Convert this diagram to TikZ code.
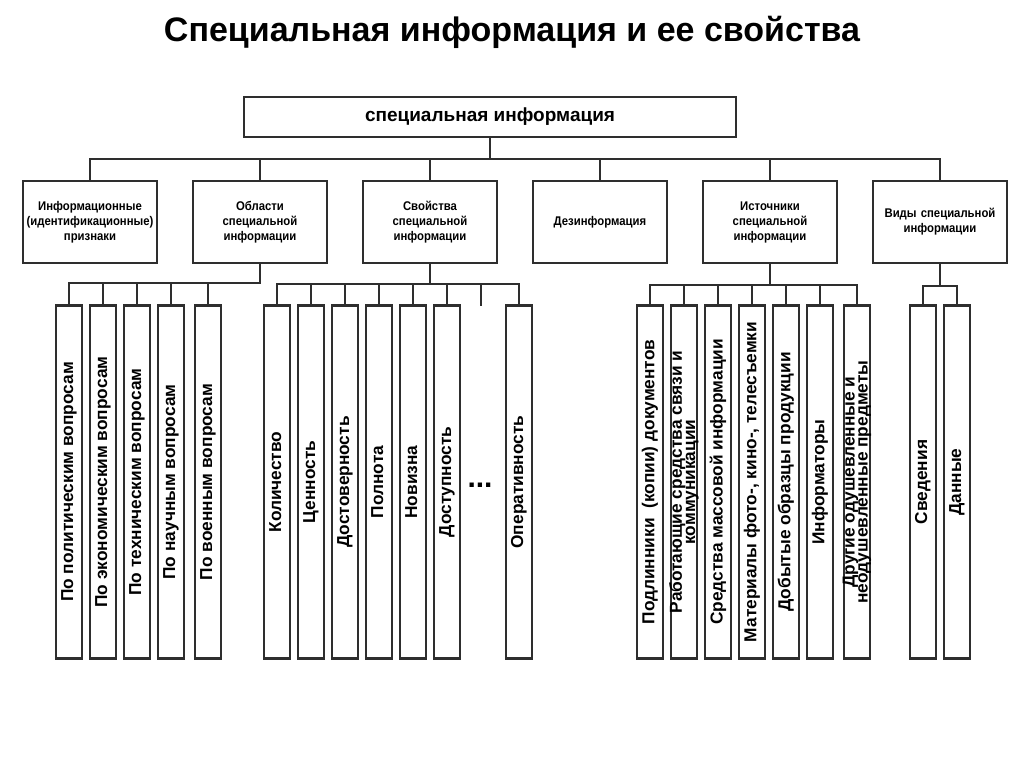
\documentclass[tikz,border=0pt]{standalone}
\usepackage{fontspec}
\setmainfont{Liberation Sans}
\newfontfamily\narrowfont[FakeStretch=0.9]{Liberation Sans}
\definecolor{edgegray}{HTML}{2E2E2E}
\newcommand{\vlabel}[1]{\makebox[0pt]{\rotatebox{90}{\begin{tabular}{@{}c@{}}#1\end{tabular}}}}
\tikzset{
  box/.style={draw=edgegray, line width=2.4pt, fill=white, align=center, inner sep=2pt},
  headbox/.style={box, minimum width=492pt, minimum height=40pt, font=\fontsize{19}{22}\selectfont\bfseries},
  groupbox/.style={box, minimum width=134pt, minimum height=82pt, text width=130pt, font=\narrowfont\fontsize{12.6}{15}\selectfont\bfseries},
  leafbox/.style={box, minimum width=26pt, minimum height=353pt, inner sep=0pt, font=\fontsize{17.3}{12.5}\selectfont\bfseries},
  link/.style={draw=edgegray, line width=2.4pt, line cap=rect},
}

\begin{document}
\begin{tikzpicture}[x=1pt, y=-1pt, node distance=34pt]
\useasboundingbox (0,0) rectangle (1024,767);
\node[font=\fontsize{34}{38}\selectfont\bfseries, anchor=base] (title) at (512,42) {Специальная информация и ее свойства};

% root and second row
\node[headbox] (si) at (490,117) {специальная информация};
\node[groupbox] (m1) at (90,222) {Информационные\\(идентификационные)\\признаки};
\node[groupbox, right of = m1, node distance=170pt] (m2) {Области\\специальной\\информации};
\node[groupbox, right of = m2, node distance=170pt] (m3) {Свойства\\специальной\\информации};
\node[groupbox, right of = m3, node distance=170pt] (m4) {Дезинформация};
\node[groupbox, right of = m4, node distance=170pt] (m5) {Источники\\специальной\\информации};
\node[groupbox, right of = m5, node distance=170pt] (m6) {Виды специальной\\информации};

% areas
\node[leafbox] (a1) at (69,482) {\vlabel{По политическим вопросам}};
\node[leafbox, right of = a1] (a2) {\vlabel{По экономическим вопросам}};
\node[leafbox, right of = a2] (a3) {\vlabel{По техническим вопросам}};
\node[leafbox, right of = a3] (a4) {\vlabel{По научным вопросам}};
\node[leafbox, right of = a4, xshift=3pt] (a5) {\vlabel{По военным вопросам}};

% properties
\node[leafbox] (p1) at (277,482) {\vlabel{Количество}};
\node[leafbox, right of = p1] (p2) {\vlabel{Ценность}};
\node[leafbox, right of = p2] (p3) {\vlabel{Достоверность}};
\node[leafbox, right of = p3] (p4) {\vlabel{Полнота}};
\node[leafbox, right of = p4] (p5) {\vlabel{Новизна}};
\node[leafbox, right of = p5] (p6) {\vlabel{Доступность}};
\coordinate (p7) at (481,305);
\node[font=\fontsize{30}{30}\selectfont\bfseries, anchor=base] (pdots) at (480,487) {...};
\node[leafbox, right of = p6, xshift=38pt] (p8) {\vlabel{Оперативность}};

% sources
\node[leafbox] (s1) at (650,482) {\vlabel{Подлинники\ \ (копии) документов}};
\node[leafbox, right of = s1] (s2) {\vlabel{Работающие средства связи и\\коммуникации}};
\node[leafbox, right of = s2] (s3) {\vlabel{Средства массовой информации}};
\node[leafbox, right of = s3] (s4) {\vlabel{Материалы фото-, кино-, телесъемки}};
\node[leafbox, right of = s4] (s5) {\vlabel{Добытые образцы продукции}};
\node[leafbox, right of = s5] (s6) {\vlabel{Информаторы}};
\node[leafbox, right of = s6, xshift=3pt] (s7) {\vlabel{Другие одушевленные и\\неодушевленные предметы}};

% kinds
\node[leafbox] (v1) at (923,482) {\vlabel{Сведения}};
\node[leafbox, right of = v1] (v2) {\vlabel{Данные}};

% bus points
\coordinate (b0) at (490,159);
\coordinate (b2) at (260,283);
\coordinate (b3) at (430,284);
\coordinate (b5) at (770,285);
\coordinate (b6) at (940,286);

\draw[link] (si) -- (b0);
\draw[link] (b0) -| (m1);
\draw[link] (b0) -| (m2);
\draw[link] (b0) -| (m3);
\draw[link] (b0) -| (m4);
\draw[link] (b0) -| (m5);
\draw[link] (b0) -| (m6);

\draw[link] (m2) -- (b2);
\draw[link] (b2) -| (a1);
\draw[link] (b2) -| (a2);
\draw[link] (b2) -| (a3);
\draw[link] (b2) -| (a4);
\draw[link] (b2) -| (a5);

\draw[link] (m3) -- (b3);
\draw[link] (b3) -| (p1);
\draw[link] (b3) -| (p2);
\draw[link] (b3) -| (p3);
\draw[link] (b3) -| (p4);
\draw[link] (b3) -| (p5);
\draw[link] (b3) -| (p6);
\draw[link] (b3) -| (p7);
\draw[link] (b3) -| (p8);

\draw[link] (m5) -- (b5);
\draw[link] (b5) -| (s1);
\draw[link] (b5) -| (s2);
\draw[link] (b5) -| (s3);
\draw[link] (b5) -| (s4);
\draw[link] (b5) -| (s5);
\draw[link] (b5) -| (s6);
\draw[link] (b5) -| (s7);

\draw[link] (m6) -- (b6);
\draw[link] (b6) -| (v1);
\draw[link] (b6) -| (v2);
\end{tikzpicture}
\end{document}
